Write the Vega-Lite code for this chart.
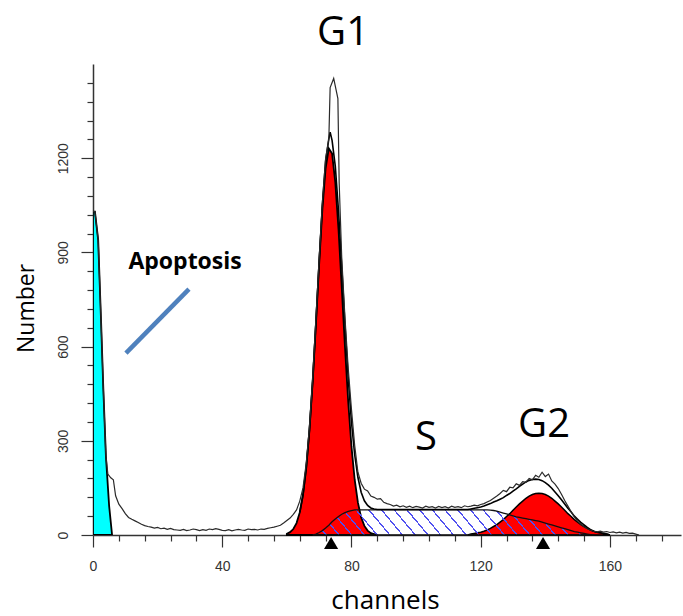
{
  "$schema": "https://vega.github.io/schema/vega-lite/v6.json",
  "width": 588,
  "height": 471,
  "autosize": "none",
  "padding": {"left": 93, "top": 64, "right": 2, "bottom": 81},
  "background": "white",
  "config": {"view": {"stroke": null}, "text": {"font": "Open Sans"}},
  "datasets": {
    "raw": [
      {"ch": 0, "count": 1030}, {"ch": 0.6, "count": 1030}, {"ch": 1.6, "count": 940}, {"ch": 2.5, "count": 680}, {"ch": 3.2, "count": 465}, {"ch": 4, "count": 250}, {"ch": 4.6, "count": 194}, {"ch": 5.5, "count": 182}, {"ch": 6.3, "count": 176}, {"ch": 7, "count": 125}, {"ch": 8, "count": 98}, {"ch": 9, "count": 84}, {"ch": 10, "count": 68}, {"ch": 11, "count": 56}, {"ch": 12, "count": 50}, {"ch": 13, "count": 45}, {"ch": 14, "count": 40}, {"ch": 15, "count": 34}, {"ch": 16, "count": 30}, {"ch": 17, "count": 27}, {"ch": 18, "count": 25}, {"ch": 19, "count": 22}, {"ch": 20, "count": 24}, {"ch": 21, "count": 20}, {"ch": 22, "count": 22}, {"ch": 23, "count": 18}, {"ch": 24, "count": 21}, {"ch": 25, "count": 17}, {"ch": 26, "count": 16}, {"ch": 27, "count": 15}, {"ch": 28, "count": 18}, {"ch": 29, "count": 14}, {"ch": 30, "count": 16}, {"ch": 31, "count": 19}, {"ch": 32, "count": 17}, {"ch": 33, "count": 14}, {"ch": 34, "count": 17}, {"ch": 35, "count": 15}, {"ch": 36, "count": 19}, {"ch": 37, "count": 17}, {"ch": 38, "count": 20}, {"ch": 39, "count": 18}, {"ch": 40, "count": 15}, {"ch": 41, "count": 14}, {"ch": 42, "count": 17}, {"ch": 43, "count": 13}, {"ch": 44, "count": 16}, {"ch": 45, "count": 18}, {"ch": 46, "count": 16}, {"ch": 47, "count": 15}, {"ch": 48, "count": 19}, {"ch": 49, "count": 17}, {"ch": 50, "count": 18}, {"ch": 51, "count": 16}, {"ch": 52, "count": 19}, {"ch": 53, "count": 18}, {"ch": 54, "count": 21}, {"ch": 55, "count": 23}, {"ch": 56, "count": 25}, {"ch": 57, "count": 28}, {"ch": 58, "count": 31}, {"ch": 59, "count": 38}, {"ch": 60, "count": 46}, {"ch": 61, "count": 54}, {"ch": 62, "count": 66}, {"ch": 63, "count": 80}, {"ch": 64, "count": 108}, {"ch": 65, "count": 150}, {"ch": 66, "count": 228}, {"ch": 67, "count": 345}, {"ch": 68, "count": 500}, {"ch": 69, "count": 690}, {"ch": 70, "count": 880}, {"ch": 71, "count": 1060}, {"ch": 72, "count": 1200}, {"ch": 73, "count": 1262}, {"ch": 73.4, "count": 1425}, {"ch": 74.5, "count": 1454}, {"ch": 75.8, "count": 1390}, {"ch": 76.2, "count": 1120}, {"ch": 77, "count": 880}, {"ch": 78, "count": 690}, {"ch": 79, "count": 530}, {"ch": 80, "count": 400}, {"ch": 81, "count": 285}, {"ch": 82, "count": 200}, {"ch": 83, "count": 165}, {"ch": 84, "count": 146}, {"ch": 85, "count": 140}, {"ch": 86, "count": 124}, {"ch": 87, "count": 120}, {"ch": 88, "count": 114}, {"ch": 89, "count": 116}, {"ch": 90, "count": 104}, {"ch": 91, "count": 100}, {"ch": 92, "count": 97}, {"ch": 93, "count": 92}, {"ch": 94, "count": 95}, {"ch": 95, "count": 90}, {"ch": 96, "count": 93}, {"ch": 97, "count": 88}, {"ch": 98, "count": 92}, {"ch": 99, "count": 87}, {"ch": 100, "count": 91}, {"ch": 101, "count": 89}, {"ch": 102, "count": 86}, {"ch": 103, "count": 92}, {"ch": 104, "count": 88}, {"ch": 105, "count": 90}, {"ch": 106, "count": 86}, {"ch": 107, "count": 91}, {"ch": 108, "count": 87}, {"ch": 109, "count": 90}, {"ch": 110, "count": 86}, {"ch": 111, "count": 92}, {"ch": 112, "count": 88}, {"ch": 113, "count": 90}, {"ch": 114, "count": 87}, {"ch": 115, "count": 93}, {"ch": 116, "count": 90}, {"ch": 117, "count": 92}, {"ch": 118, "count": 95}, {"ch": 119, "count": 93}, {"ch": 120, "count": 97}, {"ch": 121, "count": 100}, {"ch": 122, "count": 105}, {"ch": 123, "count": 110}, {"ch": 124, "count": 117}, {"ch": 125, "count": 124}, {"ch": 126, "count": 132}, {"ch": 127, "count": 142}, {"ch": 128, "count": 138}, {"ch": 129, "count": 152}, {"ch": 130, "count": 150}, {"ch": 131, "count": 163}, {"ch": 132, "count": 158}, {"ch": 133, "count": 170}, {"ch": 134, "count": 168}, {"ch": 135, "count": 180}, {"ch": 136, "count": 176}, {"ch": 137, "count": 190}, {"ch": 138, "count": 184}, {"ch": 139, "count": 200}, {"ch": 140, "count": 186}, {"ch": 141, "count": 194}, {"ch": 142, "count": 172}, {"ch": 143, "count": 162}, {"ch": 144, "count": 148}, {"ch": 145, "count": 130}, {"ch": 146, "count": 110}, {"ch": 147, "count": 92}, {"ch": 148, "count": 74}, {"ch": 149, "count": 58}, {"ch": 150, "count": 44}, {"ch": 151, "count": 34}, {"ch": 152, "count": 26}, {"ch": 153, "count": 20}, {"ch": 154, "count": 15}, {"ch": 155, "count": 12}, {"ch": 156, "count": 10}, {"ch": 157, "count": 12}, {"ch": 158, "count": 9}, {"ch": 159, "count": 11}, {"ch": 160, "count": 8}, {"ch": 161, "count": 10}, {"ch": 162, "count": 7}, {"ch": 163, "count": 9}, {"ch": 164, "count": 6}, {"ch": 165, "count": 8}, {"ch": 166, "count": 5}, {"ch": 167, "count": 6}, {"ch": 168, "count": 3}, {"ch": 169, "count": 0}
    ],
    "fit": [
      {"ch": 64, "count": 72}, {"ch": 65, "count": 128}, {"ch": 66, "count": 214}, {"ch": 67, "count": 335}, {"ch": 68, "count": 490}, {"ch": 69, "count": 675}, {"ch": 70, "count": 871}, {"ch": 71, "count": 1052}, {"ch": 72, "count": 1190}, {"ch": 73, "count": 1262}, {"ch": 73.4, "count": 1283}, {"ch": 74, "count": 1257}, {"ch": 75, "count": 1174}, {"ch": 76, "count": 1031}, {"ch": 77, "count": 853}, {"ch": 78, "count": 668}, {"ch": 79, "count": 499}, {"ch": 80, "count": 360}, {"ch": 81, "count": 256}, {"ch": 82, "count": 183}, {"ch": 83, "count": 136}, {"ch": 84, "count": 109}, {"ch": 85, "count": 94}, {"ch": 86, "count": 86}, {"ch": 87, "count": 83}, {"ch": 88, "count": 81}, {"ch": 100, "count": 81}, {"ch": 116, "count": 81}, {"ch": 117, "count": 83}, {"ch": 118, "count": 85}, {"ch": 119, "count": 87}, {"ch": 120, "count": 89}, {"ch": 121, "count": 92}, {"ch": 122, "count": 96}, {"ch": 123, "count": 100}, {"ch": 124, "count": 105}, {"ch": 125, "count": 109}, {"ch": 126, "count": 114}, {"ch": 127, "count": 119}, {"ch": 128, "count": 126}, {"ch": 129, "count": 132}, {"ch": 130, "count": 140}, {"ch": 131, "count": 147}, {"ch": 132, "count": 155}, {"ch": 133, "count": 162}, {"ch": 134, "count": 169}, {"ch": 135, "count": 174}, {"ch": 136, "count": 177}, {"ch": 137, "count": 178}, {"ch": 138, "count": 177}, {"ch": 139, "count": 173}, {"ch": 140, "count": 167}, {"ch": 141, "count": 159}, {"ch": 142, "count": 149}, {"ch": 143, "count": 137}, {"ch": 144, "count": 125}, {"ch": 145, "count": 112}, {"ch": 146, "count": 99}, {"ch": 147, "count": 85}, {"ch": 148, "count": 73}, {"ch": 149, "count": 60}, {"ch": 150, "count": 50}, {"ch": 151, "count": 40}, {"ch": 152, "count": 32}, {"ch": 153, "count": 24}, {"ch": 154, "count": 17}, {"ch": 155, "count": 12}, {"ch": 156, "count": 9}, {"ch": 157, "count": 7}, {"ch": 158, "count": 5}, {"ch": 159, "count": 3}, {"ch": 160, "count": 0}
    ],
    "apo": [
      {"ch": 0, "count": 1030}, {"ch": 0.6, "count": 1030}, {"ch": 1.6, "count": 940}, {"ch": 2.5, "count": 680}, {"ch": 3.2, "count": 465}, {"ch": 4, "count": 250}, {"ch": 5, "count": 92}, {"ch": 5.9, "count": 0}
    ],
    "g1": [
      {"ch": 60, "count": 4}, {"ch": 61, "count": 9}, {"ch": 62, "count": 19}, {"ch": 63, "count": 38}, {"ch": 64, "count": 72}, {"ch": 65, "count": 128}, {"ch": 66, "count": 214}, {"ch": 67, "count": 335}, {"ch": 68, "count": 490}, {"ch": 69, "count": 672}, {"ch": 70, "count": 863}, {"ch": 71, "count": 1038}, {"ch": 72, "count": 1168}, {"ch": 73, "count": 1231}, {"ch": 74, "count": 1215}, {"ch": 75, "count": 1123}, {"ch": 76, "count": 972}, {"ch": 77, "count": 787}, {"ch": 78, "count": 597}, {"ch": 79, "count": 424}, {"ch": 80, "count": 282}, {"ch": 81, "count": 176}, {"ch": 82, "count": 103}, {"ch": 83, "count": 56}, {"ch": 84, "count": 29}, {"ch": 85, "count": 14}, {"ch": 86, "count": 6}, {"ch": 87, "count": 3}, {"ch": 88, "count": 0}
    ],
    "s": [
      {"ch": 68, "count": 0}, {"ch": 69, "count": 3}, {"ch": 70, "count": 8}, {"ch": 71, "count": 14}, {"ch": 72, "count": 22}, {"ch": 73, "count": 31}, {"ch": 74, "count": 42}, {"ch": 75, "count": 51}, {"ch": 76, "count": 59}, {"ch": 77, "count": 66}, {"ch": 78, "count": 71}, {"ch": 79, "count": 75}, {"ch": 80, "count": 78}, {"ch": 81, "count": 80}, {"ch": 122, "count": 80}, {"ch": 123, "count": 79}, {"ch": 124, "count": 78}, {"ch": 125, "count": 76}, {"ch": 126, "count": 73}, {"ch": 127, "count": 70}, {"ch": 128, "count": 67}, {"ch": 129, "count": 64}, {"ch": 130, "count": 61}, {"ch": 131, "count": 58}, {"ch": 132, "count": 56}, {"ch": 133, "count": 54}, {"ch": 134, "count": 52}, {"ch": 135, "count": 50}, {"ch": 136, "count": 48}, {"ch": 137, "count": 46}, {"ch": 138, "count": 44}, {"ch": 139, "count": 41}, {"ch": 140, "count": 38}, {"ch": 141, "count": 35}, {"ch": 142, "count": 32}, {"ch": 143, "count": 29}, {"ch": 144, "count": 26}, {"ch": 145, "count": 23}, {"ch": 146, "count": 20}, {"ch": 147, "count": 17}, {"ch": 148, "count": 14}, {"ch": 149, "count": 11}, {"ch": 150, "count": 9}, {"ch": 151, "count": 7}, {"ch": 152, "count": 5}, {"ch": 153, "count": 3}, {"ch": 154, "count": 1}, {"ch": 155, "count": 0}
    ],
    "g2": [
      {"ch": 116, "count": 0}, {"ch": 117, "count": 3}, {"ch": 118, "count": 5}, {"ch": 119, "count": 7}, {"ch": 120, "count": 9}, {"ch": 121, "count": 12}, {"ch": 122, "count": 16}, {"ch": 123, "count": 21}, {"ch": 124, "count": 27}, {"ch": 125, "count": 33}, {"ch": 126, "count": 41}, {"ch": 127, "count": 49}, {"ch": 128, "count": 59}, {"ch": 129, "count": 68}, {"ch": 130, "count": 79}, {"ch": 131, "count": 89}, {"ch": 132, "count": 99}, {"ch": 133, "count": 108}, {"ch": 134, "count": 117}, {"ch": 135, "count": 124}, {"ch": 136, "count": 129}, {"ch": 137, "count": 132}, {"ch": 138, "count": 133}, {"ch": 139, "count": 132}, {"ch": 140, "count": 129}, {"ch": 141, "count": 124}, {"ch": 142, "count": 117}, {"ch": 143, "count": 108}, {"ch": 144, "count": 99}, {"ch": 145, "count": 89}, {"ch": 146, "count": 79}, {"ch": 147, "count": 68}, {"ch": 148, "count": 59}, {"ch": 149, "count": 49}, {"ch": 150, "count": 41}, {"ch": 151, "count": 33}, {"ch": 152, "count": 27}, {"ch": 153, "count": 21}, {"ch": 154, "count": 16}, {"ch": 155, "count": 12}, {"ch": 156, "count": 9}, {"ch": 157, "count": 7}, {"ch": 158, "count": 5}, {"ch": 159, "count": 3}, {"ch": 160, "count": 0}
    ],
    "phases": [
      {"ch": 77.4, "count": 1560, "label": "G1"},
      {"ch": 103.1, "count": 270, "label": "S"},
      {"ch": 139.6, "count": 312, "label": "G2"}
    ],
    "apolabel": [{"ch": 28.5, "count": 847, "label": "Apoptosis"}],
    "pointer": [{"ch": 10.2, "count": 579, "ch2": 29.7, "count2": 783}],
    "markers": [{"ch": 73.7, "count": 0}, {"ch": 139.3, "count": 0}]
  },
  "encoding": {
    "x": {
      "field": "ch", "type": "quantitative",
      "scale": {"domain": [0, 182], "nice": false, "zero": false},
      "axis": {
        "title": "channels",
        "values": [0, 8, 16, 24, 32, 40, 48, 56, 64, 72, 80, 88, 96, 104, 112, 120, 128, 136, 144, 152, 160, 168, 176],
        "labelExpr": "datum.value % 40 === 0 ? datum.label : ''",
        "labelOverlap": false,
        "labelFlush": false,
        "labelFont": "Liberation Sans",
        "labelFontSize": 14,
        "labelColor": "#333333",
        "labelPadding": 12,
        "tickSize": {"condition": {"test": "datum.value % 40 === 0", "value": 12}, "value": 6},
        "tickColor": "#333333",
        "tickWidth": 1.2,
        "domainColor": "#333333",
        "domainWidth": 1.5,
        "grid": false,
        "titleFont": "Open Sans",
        "titleFontSize": 26,
        "titleFontWeight": "normal",
        "titleColor": "#000000",
        "titleBaseline": "alphabetic",
        "titleX": 292,
        "titleY": 73
      }
    },
    "y": {
      "field": "count", "type": "quantitative",
      "scale": {"domain": [0, 1500], "nice": false},
      "axis": {
        "title": "Number",
        "format": "d",
        "values": [0, 60, 120, 180, 240, 300, 360, 420, 480, 540, 600, 660, 720, 780, 840, 900, 960, 1020, 1080, 1140, 1200, 1260, 1320, 1380, 1440],
        "labelExpr": "datum.value % 300 === 0 ? datum.label : ''",
        "labelAngle": -90,
        "labelAlign": "center",
        "labelBaseline": "bottom",
        "labelOverlap": false,
        "labelFont": "Liberation Sans",
        "labelFontSize": 14,
        "labelColor": "#333333",
        "labelPadding": 11,
        "tickSize": {"condition": {"test": "datum.value % 300 === 0", "value": 12}, "value": 6},
        "tickColor": "#333333",
        "tickWidth": 1.2,
        "domainColor": "#333333",
        "domainWidth": 1.5,
        "grid": false,
        "titleFont": "Open Sans",
        "titleFontSize": 23,
        "titleFontWeight": "normal",
        "titleColor": "#000000",
        "titleAngle": -90,
        "titleAlign": "center",
        "titleBaseline": "alphabetic",
        "titleX": -60,
        "titleY": 244
      }
    }
  },
  "layer": [
    {"data": {"name": "apo"}, "mark": {"type": "area", "color": "#00ffff", "stroke": "#000000", "strokeWidth": 1.8, "clip": true}},
    {"data": {"name": "g1"}, "mark": {"type": "area", "color": "#ff0000", "stroke": "#000000", "strokeWidth": 1.8}},
    {"data": {"name": "g2"}, "mark": {"type": "area", "color": "#ff0000", "stroke": "#000000", "strokeWidth": 1.5}},
    {"data": {"name": "s"}, "mark": {"type": "area", "stroke": "#111111", "strokeWidth": 1.3,
      "fill": {"gradient": "linear", "x1": 0, "y1": 1, "x2": 1, "y2": 0.925, "stops": [
        {"offset": 0, "color": "#5050f0"}, {"offset": 0.006, "color": "#5050f0"}, {"offset": 0.006, "color": "rgba(255,255,255,0)"}, {"offset": 0.045, "color": "rgba(255,255,255,0)"},
        {"offset": 0.045, "color": "#5050f0"}, {"offset": 0.051, "color": "#5050f0"}, {"offset": 0.051, "color": "rgba(255,255,255,0)"}, {"offset": 0.09, "color": "rgba(255,255,255,0)"},
        {"offset": 0.09, "color": "#5050f0"}, {"offset": 0.096, "color": "#5050f0"}, {"offset": 0.096, "color": "rgba(255,255,255,0)"}, {"offset": 0.135, "color": "rgba(255,255,255,0)"},
        {"offset": 0.135, "color": "#5050f0"}, {"offset": 0.141, "color": "#5050f0"}, {"offset": 0.141, "color": "rgba(255,255,255,0)"}, {"offset": 0.18, "color": "rgba(255,255,255,0)"},
        {"offset": 0.18, "color": "#5050f0"}, {"offset": 0.186, "color": "#5050f0"}, {"offset": 0.186, "color": "rgba(255,255,255,0)"}, {"offset": 0.225, "color": "rgba(255,255,255,0)"},
        {"offset": 0.225, "color": "#5050f0"}, {"offset": 0.231, "color": "#5050f0"}, {"offset": 0.231, "color": "rgba(255,255,255,0)"}, {"offset": 0.27, "color": "rgba(255,255,255,0)"},
        {"offset": 0.27, "color": "#5050f0"}, {"offset": 0.276, "color": "#5050f0"}, {"offset": 0.276, "color": "rgba(255,255,255,0)"}, {"offset": 0.315, "color": "rgba(255,255,255,0)"},
        {"offset": 0.315, "color": "#5050f0"}, {"offset": 0.321, "color": "#5050f0"}, {"offset": 0.321, "color": "rgba(255,255,255,0)"}, {"offset": 0.36, "color": "rgba(255,255,255,0)"},
        {"offset": 0.36, "color": "#5050f0"}, {"offset": 0.366, "color": "#5050f0"}, {"offset": 0.366, "color": "rgba(255,255,255,0)"}, {"offset": 0.405, "color": "rgba(255,255,255,0)"},
        {"offset": 0.405, "color": "#5050f0"}, {"offset": 0.411, "color": "#5050f0"}, {"offset": 0.411, "color": "rgba(255,255,255,0)"}, {"offset": 0.45, "color": "rgba(255,255,255,0)"},
        {"offset": 0.45, "color": "#5050f0"}, {"offset": 0.456, "color": "#5050f0"}, {"offset": 0.456, "color": "rgba(255,255,255,0)"}, {"offset": 0.495, "color": "rgba(255,255,255,0)"},
        {"offset": 0.495, "color": "#5050f0"}, {"offset": 0.501, "color": "#5050f0"}, {"offset": 0.501, "color": "rgba(255,255,255,0)"}, {"offset": 0.54, "color": "rgba(255,255,255,0)"},
        {"offset": 0.54, "color": "#5050f0"}, {"offset": 0.546, "color": "#5050f0"}, {"offset": 0.546, "color": "rgba(255,255,255,0)"}, {"offset": 0.585, "color": "rgba(255,255,255,0)"},
        {"offset": 0.585, "color": "#5050f0"}, {"offset": 0.591, "color": "#5050f0"}, {"offset": 0.591, "color": "rgba(255,255,255,0)"}, {"offset": 0.63, "color": "rgba(255,255,255,0)"},
        {"offset": 0.63, "color": "#5050f0"}, {"offset": 0.636, "color": "#5050f0"}, {"offset": 0.636, "color": "rgba(255,255,255,0)"}, {"offset": 0.675, "color": "rgba(255,255,255,0)"},
        {"offset": 0.675, "color": "#5050f0"}, {"offset": 0.681, "color": "#5050f0"}, {"offset": 0.681, "color": "rgba(255,255,255,0)"}, {"offset": 0.72, "color": "rgba(255,255,255,0)"},
        {"offset": 0.72, "color": "#5050f0"}, {"offset": 0.726, "color": "#5050f0"}, {"offset": 0.726, "color": "rgba(255,255,255,0)"}, {"offset": 0.765, "color": "rgba(255,255,255,0)"},
        {"offset": 0.765, "color": "#5050f0"}, {"offset": 0.771, "color": "#5050f0"}, {"offset": 0.771, "color": "rgba(255,255,255,0)"}, {"offset": 0.81, "color": "rgba(255,255,255,0)"},
        {"offset": 0.81, "color": "#5050f0"}, {"offset": 0.816, "color": "#5050f0"}, {"offset": 0.816, "color": "rgba(255,255,255,0)"}, {"offset": 0.855, "color": "rgba(255,255,255,0)"},
        {"offset": 0.855, "color": "#5050f0"}, {"offset": 0.861, "color": "#5050f0"}, {"offset": 0.861, "color": "rgba(255,255,255,0)"}, {"offset": 0.9, "color": "rgba(255,255,255,0)"},
        {"offset": 0.9, "color": "#5050f0"}, {"offset": 0.906, "color": "#5050f0"}, {"offset": 0.906, "color": "rgba(255,255,255,0)"}, {"offset": 0.945, "color": "rgba(255,255,255,0)"},
        {"offset": 0.945, "color": "#5050f0"}, {"offset": 0.951, "color": "#5050f0"}, {"offset": 0.951, "color": "rgba(255,255,255,0)"}, {"offset": 0.99, "color": "rgba(255,255,255,0)"},
        {"offset": 0.99, "color": "#5050f0"}, {"offset": 0.996, "color": "#5050f0"}, {"offset": 0.996, "color": "rgba(255,255,255,0)"}, {"offset": 1, "color": "rgba(255,255,255,0)"}
      ]}}},
    {"data": {"name": "fit"}, "mark": {"type": "line", "color": "#000000", "strokeWidth": 1.6}},
    {"data": {"name": "raw"}, "mark": {"type": "line", "color": "#2a2a2a", "strokeWidth": 1.2}},
    {"data": {"name": "pointer"}, "mark": {"type": "rule", "color": "#4f81bd", "strokeWidth": 4.5, "strokeCap": "butt"},
      "encoding": {"x2": {"field": "ch2"}, "y2": {"field": "count2"}}},
    {"data": {"name": "phases"}, "mark": {"type": "text", "font": "Open Sans", "fontSize": 40, "align": "center", "baseline": "alphabetic", "color": "#000000", "clip": false},
      "encoding": {"text": {"field": "label"}}},
    {"data": {"name": "apolabel"}, "mark": {"type": "text", "font": "Open Sans", "fontSize": 23, "fontWeight": "bold", "align": "center", "baseline": "alphabetic", "color": "#000000"},
      "encoding": {"text": {"field": "label"}}},
    {"data": {"name": "markers"}, "mark": {"type": "point", "shape": "triangle-up", "filled": true, "color": "#000000", "size": 200, "opacity": 1, "yOffset": 8, "clip": false}}
  ]
}
